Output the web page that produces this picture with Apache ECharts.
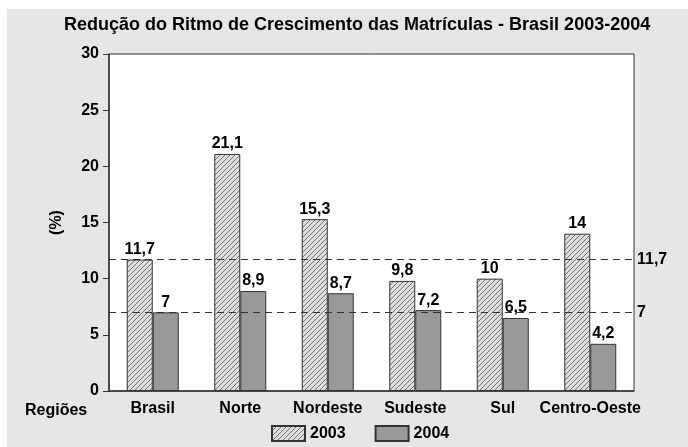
<!DOCTYPE html>
<html>
<head>
<meta charset="utf-8">
<script src="https://cdn.jsdelivr.net/npm/echarts@6/dist/echarts.min.js"></script>
<style>
  html, body { margin: 0; padding: 0; background: #fff; }
  #fundo { position: absolute; left: 7px; top: 9px; width: 681px; height: 438px; background: #e6e6e6; }
  #chart { position: absolute; left: 0; top: 0; width: 688px; height: 447px; }
</style>
</head>
<body>
<div id="fundo"></div>
<div id="chart"></div>
<script>
// dados
var regioes = ['Brasil', 'Norte', 'Nordeste', 'Sudeste', 'Sul', 'Centro-Oeste'];
var anos = ['2003', '2004'];
var valores2003 = [11.7, 21.1, 15.3, 9.8, 10, 14];
var valores2004 = [7, 8.9, 8.7, 7.2, 6.5, 4.2];
var refLinhas = [11.7, 7];
var yTicks = [0, 5, 10, 15, 20, 25, 30];

(function () {
    var myChart = echarts.init(document.getElementById('chart'));

    // hachura diagonal para 2003
    var hatch = document.createElement('canvas');
    var s = 5;
    hatch.width = s;
    hatch.height = s;
    var ctx = hatch.getContext('2d');
    ctx.fillStyle = '#dedede';
    ctx.fillRect(0, 0, s, s);
    ctx.strokeStyle = '#707070';
    ctx.lineWidth = 1;
    ctx.beginPath();
    ctx.moveTo(0, s); ctx.lineTo(s, 0);
    ctx.moveTo(-s / 2, s / 2); ctx.lineTo(s / 2, -s / 2);
    ctx.moveTo(s / 2, s * 1.5); ctx.lineTo(s * 1.5, s / 2);
    ctx.stroke();

    var fmt = function (p) {
        return String(p.value).replace('.', ',');
    };
    var fam = 'Liberation Sans, Arial';
    var bold = { fontFamily: fam, fontWeight: 'bold', fontSize: 16, color: '#000' };

    option = {
        backgroundColor: 'transparent',
        animation: false,
        title: {
            text: 'Redução do Ritmo de Crescimento das Matrículas - Brasil 2003-2004',
            left: 59,
            top: 11,
            textStyle: { fontFamily: fam, fontWeight: 'bold', fontSize: 18, color: '#000' }
        },
        legend: {
            data: anos,
            bottom: 0,
            left: 266,
            icon: 'rect',
            itemWidth: 33,
            itemHeight: 15,
            itemGap: 29,
            textStyle: bold
        },
        grid: {
            left: 109,
            right: 54,
            top: 54,
            bottom: 56,
            show: true,
            backgroundColor: '#fff',
            borderColor: '#333',
            borderWidth: 1
        },
        xAxis: {
            type: 'category',
            data: regioes,
            axisLine: { lineStyle: { color: '#333', width: 1.5 } },
            axisTick: { alignWithLabel: true, length: 5, lineStyle: { color: '#333' } },
            axisLabel: Object.assign({ margin: 10, interval: 0 }, bold)
        },
        yAxis: {
            type: 'value',
            min: yTicks[0],
            max: yTicks[yTicks.length - 1],
            interval: 5,
            name: '(%)',
            nameLocation: 'middle',
            nameGap: 44,
            nameTextStyle: bold,
            splitLine: { show: false },
            axisLine: { show: true, lineStyle: { color: '#333', width: 1.5 } },
            axisTick: { show: true, length: 6, lineStyle: { color: '#333' } },
            axisLabel: Object.assign({ margin: 10 }, bold)
        },
        graphic: [
            {
                type: 'text',
                left: 25,
                top: 403,
                style: { text: 'Regiões', font: 'bold 16px Liberation Sans, Arial', fill: '#000' }
            }
        ],
        series: [
            {
                name: anos[0],
                type: 'bar',
                data: valores2003,
                barWidth: 26,
                barGap: '0%',
                itemStyle: {
                    color: { image: hatch, repeat: 'repeat' },
                    borderColor: '#333',
                    borderWidth: 1
                },
                label: Object.assign({ show: true, position: 'top', distance: 2, formatter: fmt }, bold),
                markLine: {
                    silent: true,
                    symbol: 'none',
                    lineStyle: { color: '#333', type: [7, 5], width: 1 },
                    label: Object.assign({
                        position: 'end',
                        distance: 3,
                        formatter: function (p) { return String(p.value).replace('.', ','); }
                    }, bold),
                    data: refLinhas.map(function (v) { return { yAxis: v }; })
                }
            },
            {
                name: anos[1],
                type: 'bar',
                data: valores2004,
                barWidth: 26,
                itemStyle: {
                    color: '#999999',
                    borderColor: '#333',
                    borderWidth: 1
                },
                label: Object.assign({ show: true, position: 'top', distance: 2, formatter: fmt }, bold)
            }
        ]
    };

    myChart.setOption(option);
})();
</script>
</body>
</html>
